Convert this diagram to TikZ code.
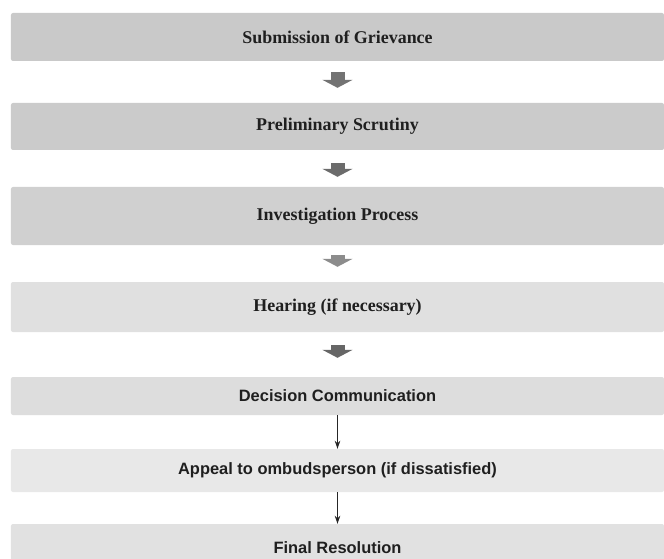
\documentclass[tikz,border=0pt]{standalone}
\usepackage{fontspec}
\setmainfont{Liberation Serif}
\newfontfamily\barsans{Liberation Sans}
\usetikzlibrary{arrows.meta}

\definecolor{barA}{HTML}{C9C9C9}
\definecolor{barB}{HTML}{CBCBCB}
\definecolor{barC}{HTML}{D0D0D0}
\definecolor{barD}{HTML}{E0E0E0}
\definecolor{barE}{HTML}{DDDDDD}
\definecolor{barF}{HTML}{E8E8E8}
\definecolor{barG}{HTML}{E1E1E1}

\begin{document}
\begin{tikzpicture}[x=1bp, y=-1bp,
  bar/.style={rectangle, rounded corners=2bp, minimum width=653bp, inner sep=0pt, text=black!88},
  serifbar/.style={bar, font=\fontsize{18}{20}\selectfont\bfseries},
  sansbar/.style={bar, font=\barsans\fontsize{16.5}{19}\selectfont\bfseries},
  fatarrow/.style={line width=14bp, -{Triangle[width=30bp, length=8bp]}},
  thinarrow/.style={line width=1.1bp, black!85, -{Stealth[length=8bp, width=5.5bp]}}]
					%%
\useasboundingbox (0,0) rectangle (664,559);
\fill[white] (0,0) rectangle (664,559);
\clip (0,0) rectangle (664,559);

\node[serifbar, fill=barA, minimum height=48bp] (sub) at (337.5,37) {Submission of Grievance};
\node[serifbar, fill=barB, minimum height=47bp] (pre) at (337.5,126.5) {Preliminary Scrutiny};
\node[serifbar, fill=barC, minimum height=58bp] (inv) at (337.5,216) {Investigation Process};
\node[serifbar, fill=barD, minimum height=50bp] (hea) at (337.5,307) {Hearing (if necessary)};
\node[sansbar, fill=barE, minimum height=38bp] (dec) at (337.5,396) {Decision Communication};
\node[sansbar, fill=barF, minimum height=43bp] (app) at (337.5,470.5) {Appeal to ombudsperson (if dissatisfied)};
\node[sansbar, fill=barG, minimum height=48bp] (fin) at (337.5,548) {Final Resolution};

\foreach \a/\b/\c/\r/\s in {sub/pre/55/11/15, pre/inv/58/13/10, inv/hea/45/10/15, hea/dec/60/13/19}
\draw[fatarrow, draw=black!\c, shorten <=\r bp, shorten >=\s bp] (\a) -- (\b);

\draw[thinarrow] (dec) -- (app);
\draw[thinarrow] (app) -- (fin);
				\end{tikzpicture}
\end{document}
